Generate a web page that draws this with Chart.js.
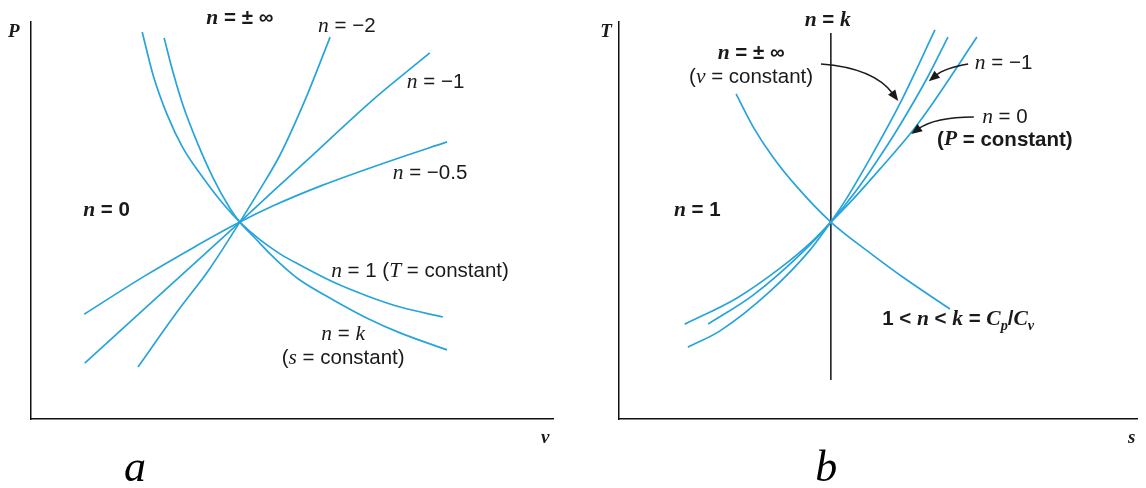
<!DOCTYPE html>
<html><head><meta charset="utf-8">
<script src="https://cdn.jsdelivr.net/npm/chart.js@4.4.1/dist/chart.umd.min.js"></script>
<style>
html,body{margin:0;padding:0;background:#fff;}
#wrap{position:relative;width:1146px;height:488px;overflow:hidden;}
canvas{position:absolute;top:0;}
</style></head><body>
<div id="wrap">
<canvas id="ca" width="573" height="488" style="left:0;width:573px;height:488px"></canvas>
<canvas id="cb" width="573" height="488" style="left:573px;width:573px;height:488px"></canvas>
</div>
<script>
// ---------- Panel a: P–v diagram (x = v, y = P), arbitrary 0–100 units ----------
const pvN1   = [[21.3,97.5],[23.4,86.6],[26.1,76.6],[29.1,68.3],[33.0,60.7],[36.8,54.2],[40.0,49.6],[43.9,45.1],[47.7,41.6],[51.5,38.8],[57.9,34.5],[64.4,31.0],[70.7,28.2],[78.9,25.7]];
const pvNk   = [[25.5,96.0],[27.2,87.4],[29.1,79.1],[31.8,69.8],[34.9,60.7],[38.1,53.1],[40.0,49.6],[42.9,45.6],[45.8,41.6],[48.7,38.0],[51.5,35.0],[57.9,30.0],[64.4,25.4],[70.7,21.7],[79.7,17.4]];
const pvNm2  = [[20.5,13.1],[28.0,27.0],[34.3,38.0],[40.0,49.6],[43.9,57.9],[47.7,66.5],[52.9,81.6],[57.3,96.2]];
const pvNm1  = [[10.3,14.1],[21.5,27.5],[31.0,38.8],[40.0,49.6],[46.4,57.4],[52.9,65.2],[65.5,80.4],[76.4,92.2]];
const pvNm05 = [[10.2,26.4],[21.5,35.8],[31.0,43.1],[40.0,49.6],[46.4,53.7],[55.9,58.9],[68.8,65.0],[79.7,69.8]];

// ---------- Panel b: T–s diagram (x = s, y = T), arbitrary 0–100 units ----------
const tsV    = [[13.3,18.1],[19.5,22.2],[29.2,32.2],[36.9,42.6],[40.9,49.6],[44.0,55.7],[48.5,65.7],[54.1,79.1],[61.0,98.0]];
const tsNm1  = [[17.2,23.9],[25.9,31.2],[35.5,42.1],[40.9,49.6],[45.6,57.2],[49.8,65.0],[53.9,73.3],[59.7,86.4],[63.5,96.2]];
const tsP    = [[12.7,23.9],[22.8,30.5],[31.1,38.0],[36.9,44.3],[40.9,49.6],[45.2,55.4],[50.4,63.0],[56.8,72.8],[60.6,79.6],[69.1,96.2]];
const tsPoly = [[22.6,81.9],[25.9,73.6],[29.7,66.0],[34.4,58.4],[40.9,49.6],[48.5,41.8],[55.6,35.0],[63.9,27.7]];
const tsNk   = [[40.9,9.8],[40.9,97.2]];

// ---------- Text labels ({x} = italic variable, [x] = subscript) ----------
const labelsA = [
  {t:'{n} = ± ∞', x:40.0, y:100.8, al:'center', b:true},
  {t:'{n} = −2', x:55.0, y:99.0, al:'left'},
  {t:'{n} = −1', x:72.0, y:84.9, al:'left'},
  {t:'{n} = −0.5', x:69.3, y:62.0, al:'left'},
  {t:'{n} = 0', x:10.0, y:52.6, al:'left', b:true},
  {t:'{n} = 1 ({T} = constant)', x:57.5, y:37.3, al:'left'},
  {t:'{n} = {k}', x:59.8, y:21.2, al:'center'},
  {t:'({s} = constant)', x:59.8, y:15.4, al:'center'}
];
const labelsB = [
  {t:'{n} = {k}', x:40.3, y:100.5, al:'center', b:true},
  {t:'{n} = ± ∞', x:25.5, y:92.2, al:'center', b:true},
  {t:'({v} = constant)', x:25.5, y:86.1, al:'center'},
  {t:'{n} = −1', x:68.7, y:89.7, al:'left'},
  {t:'{n} = 0', x:74.5, y:76.1, al:'center'},
  {t:'({P} = constant)', x:74.5, y:70.3, al:'center', b:true},
  {t:'{n} = 1', x:10.6, y:52.6, al:'left', b:true},
  {t:'1 < {n} < {k} = {C}[p]/{C}[v]', x:50.8, y:25.2, al:'left', b:true}
];
const axisA = [{t:'P', x:-3.3, y:97.5}, {t:'v', x:98.5, y:-4.8}];
const axisB = [{t:'T', x:-2.5, y:97.5}, {t:'s', x:99.0, y:-4.8}];
const letterA = {t:'a', x:19.9, y:-12.8};
const letterB = {t:'b', x:40.0, y:-12.8};
// arrows: start, control, end (data units)
const arrowsB = [
  [[39.0,89.4],[49.2,88.4],[53.9,80.1]],
  [[67.4,89.4],[62.9,88.4],[59.8,85.1]],
  [[68.5,76.1],[61.0,76.1],[56.4,71.8]]
];

const BLUE = '#27a4db';

function drawRich(ctx, str, x, y, align, size, bold){
  const parts = [];
  const re = /\{([^}]*)\}|\[([^\]]*)\]|([^{\[]+)/g; let m;
  while ((m = re.exec(str))) {
    if (m[1] !== undefined) parts.push({t:m[1], k:'i'});
    else if (m[2] !== undefined) parts.push({t:m[2], k:'sub'});
    else parts.push({t:m[3], k:'r'});
  }
  const w = bold ? 'bold ' : '';
  const fontOf = p => p.k === 'i' ? `${w}italic ${(size*1.05).toFixed(1)}px "Liberation Serif", serif`
                    : p.k === 'sub' ? `${w}italic ${(size*0.7).toFixed(1)}px "Liberation Serif", serif`
                    : `${w}${size}px "Liberation Sans", Arial, sans-serif`;
  let total = 0;
  for (const p of parts) { ctx.font = fontOf(p); p.w = ctx.measureText(p.t).width; total += p.w; }
  let cx = align === 'center' ? x - total/2 : x;
  ctx.textAlign = 'left';
  for (const p of parts) {
    ctx.font = fontOf(p);
    ctx.fillText(p.t, cx, p.k === 'sub' ? y + size*0.38 : y);
    cx += p.w;
  }
}

function makeAnnot(labels, axisNames, letter, arrows){
  return {
    id: 'annot',
    afterDraw(chart){
      const ctx = chart.ctx, sx = chart.scales.x, sy = chart.scales.y;
      const X = v => sx.getPixelForValue(v), Y = v => sy.getPixelForValue(v);
      ctx.save();
      ctx.fillStyle = '#1a1a1a';
      ctx.textBaseline = 'middle';
      for (const L of labels) drawRich(ctx, L.t, X(L.x), Y(L.y), L.al, 20.5, L.b);
      ctx.textAlign = 'center';
      ctx.font = 'bold italic 19px "Liberation Serif", serif';
      for (const A of axisNames) ctx.fillText(A.t, X(A.x), Y(A.y));
      ctx.font = 'italic 44px "Liberation Serif", serif';
      ctx.fillStyle = '#000';
      ctx.fillText(letter.t, X(letter.x), Y(letter.y));
      ctx.strokeStyle = '#1a1a1a'; ctx.fillStyle = '#1a1a1a'; ctx.lineWidth = 1.5;
      for (const a of arrows) {
        const s = [X(a[0][0]), Y(a[0][1])], c = [X(a[1][0]), Y(a[1][1])], e = [X(a[2][0]), Y(a[2][1])];
        const dx = e[0]-c[0], dy = e[1]-c[1], len = Math.hypot(dx, dy), ux = dx/len, uy = dy/len;
        const hl = 11, hw = 4.5;
        const bx = e[0]-ux*hl, by = e[1]-uy*hl;
        ctx.beginPath(); ctx.moveTo(s[0], s[1]); ctx.quadraticCurveTo(c[0], c[1], bx+ux*2, by+uy*2); ctx.stroke();
        ctx.beginPath(); ctx.moveTo(e[0], e[1]);
        ctx.lineTo(bx - uy*hw, by + ux*hw); ctx.lineTo(bx + uy*hw, by - ux*hw); ctx.closePath(); ctx.fill();
      }
      ctx.restore();
    }
  };
}

function ds(arr, color, width){
  return {data: arr.map(p => ({x:p[0], y:p[1]})), showLine:true, borderColor:color, borderWidth:width,
          pointRadius:0, fill:false, cubicInterpolationMode:'monotone', clip:false};
}
function axisOpts(){
  return {type:'linear', min:0, max:100, grid:{display:false, drawTicks:false},
          ticks:{display:false}, border:{display:true, color:'#111', width:1.5}};
}
function makeChart(id, datasets, pad, plugin){
  return new Chart(document.getElementById(id), {
    type:'scatter',
    data:{datasets},
    options:{responsive:false, animation:false, devicePixelRatio:1, events:[],
      layout:{padding:pad},
      plugins:{legend:{display:false}, tooltip:{enabled:false}},
      scales:{x:axisOpts(), y:axisOpts()}},
    plugins:[plugin]
  });
}

makeChart('ca', [ds(pvN1, BLUE, 1.7), ds(pvNk, BLUE, 1.7), ds(pvNm2, BLUE, 1.7), ds(pvNm1, BLUE, 1.7), ds(pvNm05, BLUE, 1.7)],
  {left:31, top:22, right:20, bottom:69}, makeAnnot(labelsA, axisA, letterA, []));
makeChart('cb', [ds(tsV, BLUE, 1.7), ds(tsNm1, BLUE, 1.7), ds(tsP, BLUE, 1.7), ds(tsPoly, BLUE, 1.7), ds(tsNk, '#111', 1.5)],
  {left:46, top:22, right:9, bottom:69}, makeAnnot(labelsB, axisB, letterB, arrowsB));
</script>
</body></html>
